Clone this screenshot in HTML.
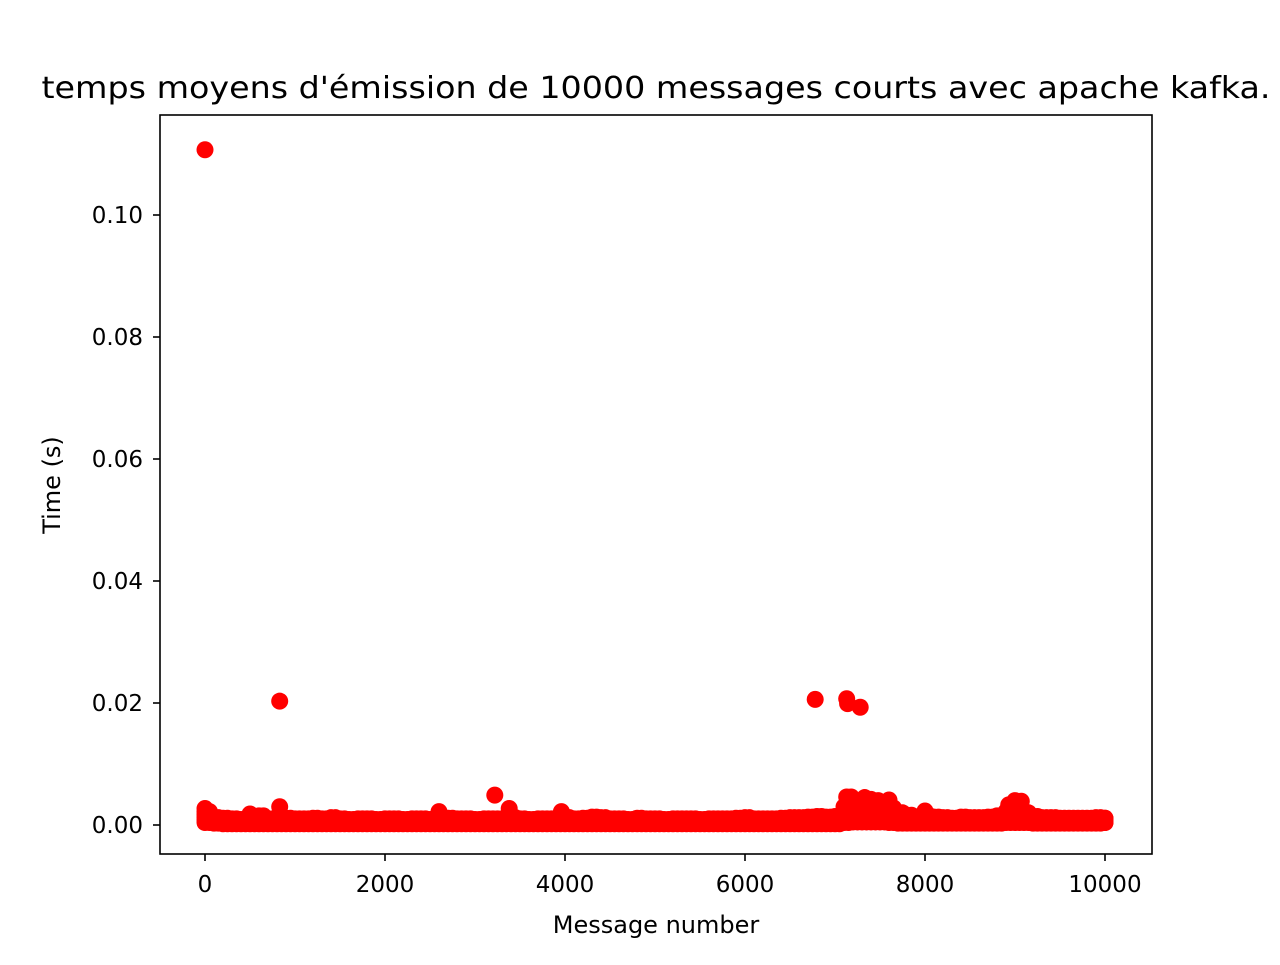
<!DOCTYPE html>
<html><head><meta charset="utf-8"><style>
html,body{margin:0;padding:0;background:#fff}
svg text{font-family:"DejaVu Sans","Liberation Sans",sans-serif;fill:#000}
</style></head><body>
<svg id="chart" width="1280" height="960" viewBox="0 0 1280 960" xmlns="http://www.w3.org/2000/svg">
<rect width="1280" height="960" fill="#fff"/>
<text x="656" y="98" font-size="30" text-anchor="middle" textLength="1229" lengthAdjust="spacingAndGlyphs">temps moyens d'émission de 10000 messages courts avec apache kafka.</text>
<g id="marks"></g>
<rect x="160" y="115" width="992" height="739" fill="none" stroke="#000" stroke-width="1.6"/>
<g id="xaxis"></g>
<g id="yaxis"></g>
<text x="656" y="933" font-size="24" text-anchor="middle">Message number</text>
<text x="0" y="0" font-size="24" text-anchor="middle" transform="translate(60,485) rotate(-90)">Time (s)</text>
</svg>
<script>
const xTicks=[0,2000,4000,6000,8000,10000];
const xTickLabels=["0","2000","4000","6000","8000","10000"];
const yTicks=[0,0.02,0.04,0.06,0.08,0.10];
const yTickLabels=["0.00","0.02","0.04","0.06","0.08","0.10"];
const bandHigh=[0.0022,0.0012,0.0011,0.0010,0.0009,0.0013,0.0015,0.0010,0.0012,0.0011,0.0010,0.0010,0.0011,0.0010,0.0012,0.0010,0.0009,0.0010,0.0010,0.0009,0.0010,0.0010,0.0009,0.0010,0.0010,0.0009,0.0012,0.0011,0.0010,0.0010,0.0009,0.0010,0.0010,0.0010,0.0012,0.0010,0.0009,0.0010,0.0010,0.0010,0.0012,0.0010,0.0011,0.0013,0.0012,0.0010,0.0010,0.0009,0.0011,0.0010,0.0010,0.0009,0.0010,0.0010,0.0010,0.0009,0.0010,0.0010,0.0010,0.0011,0.0012,0.0010,0.0010,0.0010,0.0011,0.0012,0.0012,0.0013,0.0014,0.0013,0.0014,0.0030,0.0032,0.0033,0.0030,0.0031,0.0028,0.0020,0.0016,0.0013,0.0015,0.0013,0.0012,0.0011,0.0013,0.0012,0.0012,0.0013,0.0015,0.0022,0.0025,0.0020,0.0014,0.0012,0.0012,0.0011,0.0011,0.0011,0.0011,0.0012,0.0011];
const bandLow=[0.0004,0.0003,0.0002,0.0002,0.0002,0.0002,0.0002,0.0002,0.0002,0.0002,0.0002,0.0002,0.0002,0.0002,0.0002,0.0002,0.0002,0.0002,0.0002,0.0002,0.0002,0.0002,0.0002,0.0002,0.0002,0.0002,0.0002,0.0002,0.0002,0.0002,0.0002,0.0002,0.0002,0.0002,0.0002,0.0002,0.0002,0.0002,0.0002,0.0002,0.0002,0.0002,0.0002,0.0002,0.0002,0.0002,0.0002,0.0002,0.0002,0.0002,0.0002,0.0002,0.0002,0.0002,0.0002,0.0002,0.0002,0.0002,0.0002,0.0002,0.0002,0.0002,0.0002,0.0002,0.0002,0.0002,0.0002,0.0002,0.0002,0.0002,0.0002,0.0004,0.0005,0.0005,0.0005,0.0005,0.0004,0.0003,0.0003,0.0003,0.0003,0.0003,0.0003,0.0003,0.0003,0.0003,0.0003,0.0003,0.0003,0.0004,0.0004,0.0004,0.0003,0.0003,0.0003,0.0003,0.0003,0.0003,0.0003,0.0003,0.0004];
const outlierX=[0,830,6780,7130,7140,7280,3220,830,0,2600,3380,3960,7130,7180,7330,7400,7480,7600,9000,9070,8930,8000,500];
const outlierY=[0.1107,0.0203,0.0206,0.0207,0.0199,0.0193,0.0049,0.0030,0.0027,0.0022,0.0027,0.0022,0.0046,0.0046,0.0045,0.0042,0.0040,0.0041,0.0040,0.0039,0.0033,0.0023,0.0018];
const NS="http://www.w3.org/2000/svg";
const X=v=>205+(v/10000)*900;
const Y=v=>825-(v/0.10)*610;
const marks=document.getElementById('marks');
function dot(x,y){const c=document.createElementNS(NS,'circle');
c.setAttribute('cx',X(x));c.setAttribute('cy',Y(y));c.setAttribute('r',8.5);c.setAttribute('fill','#ff0000');


marks.appendChild(c);}
for(let i=0;i<bandHigh.length;i++){
 const lo=bandLow[i],hi=bandHigh[i];
 for(let k=0;k<=4;k++){dot(i*100,lo+(hi-lo)*k/4);dot(i*100+50>10000?10000:i*100+50,lo+(hi-lo)*k/4);}
}
for(let i=0;i<outlierX.length;i++)dot(outlierX[i],outlierY[i]);
const xa=document.getElementById('xaxis'),ya=document.getElementById('yaxis');
xTicks.forEach((t,i)=>{
 const l=document.createElementNS(NS,'line');l.setAttribute('x1',X(t));l.setAttribute('x2',X(t));l.setAttribute('y1',854);l.setAttribute('y2',861);l.setAttribute('stroke','#000');l.setAttribute('stroke-width',1.6);
 
 
 xa.appendChild(l);
 const tx=document.createElementNS(NS,'text');tx.setAttribute('x',X(t));tx.setAttribute('y',892);tx.setAttribute('font-size',23);tx.setAttribute('text-anchor','middle');tx.textContent=xTickLabels[i];
 
 
 xa.appendChild(tx);
});
yTicks.forEach((t,i)=>{
 const l=document.createElementNS(NS,'line');l.setAttribute('x1',153);l.setAttribute('x2',160);l.setAttribute('y1',Y(t));l.setAttribute('y2',Y(t));l.setAttribute('stroke','#000');l.setAttribute('stroke-width',1.6);
 
 
 ya.appendChild(l);
 const tx=document.createElementNS(NS,'text');tx.setAttribute('x',143);tx.setAttribute('y',Y(t)+8);tx.setAttribute('font-size',23);tx.setAttribute('text-anchor','end');tx.textContent=yTickLabels[i];
 
 
 ya.appendChild(tx);
});
</script>
</body></html>
